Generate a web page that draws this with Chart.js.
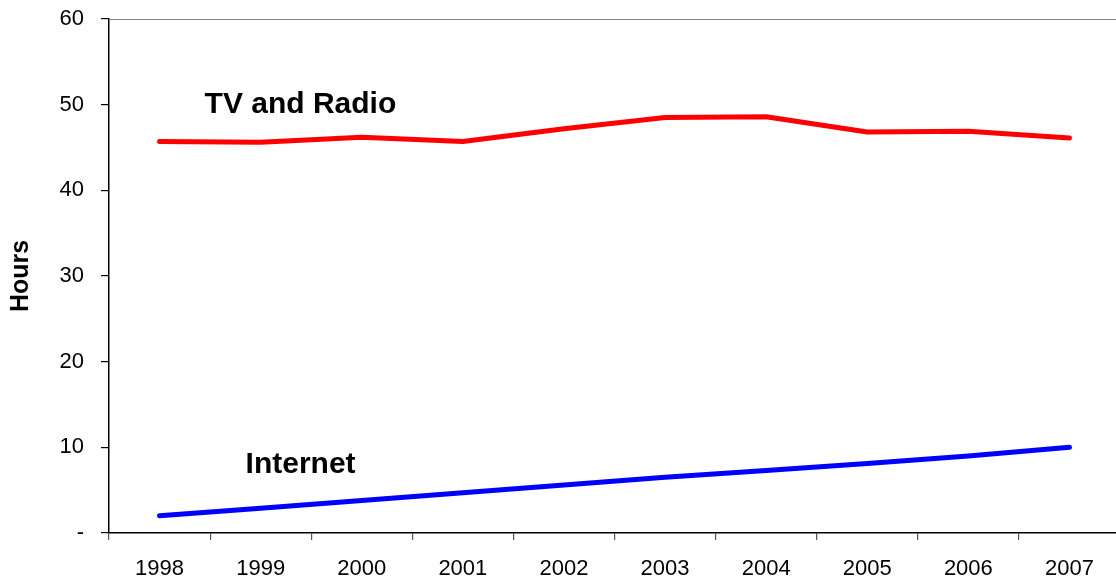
<!DOCTYPE html>
<html>
<head>
<meta charset="utf-8">
<script src="https://cdn.jsdelivr.net/npm/chart.js@4/dist/chart.umd.min.js"></script>
<style>
  html, body { margin: 0; padding: 0; background: #fff; overflow: hidden; }
  #wrap { position: relative; width: 1130px; height: 579px; }
</style>
</head>
<body>
<div id="wrap"><canvas id="chart"></canvas></div>
<script>
// ---- data ----
const years = ['1998','1999','2000','2001','2002','2003','2004','2005','2006','2007'];
const tvRadio = [45.7, 45.6, 46.2, 45.7, 47.2, 48.5, 48.6, 46.8, 46.9, 46.1];
const internet = [2.0, 2.9, 3.8, 4.7, 5.6, 6.5, 7.3, 8.1, 9.0, 10.0];
const yTicks = [0, 10, 20, 30, 40, 50, 60];

const FONT = '"Liberation Sans", Arial, sans-serif';

// in-chart labels, top border and rotated axis title
const annotate = {
  id: 'annotate',
  afterDraw(chart) {
    const { ctx, chartArea: a, scales: { x, y } } = chart;
    ctx.save();
    // top frame line
    ctx.strokeStyle = '#808080';
    ctx.lineWidth = 1.2;
    ctx.beginPath();
    ctx.moveTo(a.left, a.top + 0.5);
    ctx.lineTo(a.right, a.top + 0.5);
    ctx.stroke();

    ctx.fillStyle = '#000';
    ctx.font = 'bold 30px ' + FONT;
    ctx.textAlign = 'left';
    ctx.textBaseline = 'alphabetic';
    ctx.fillText('TV and Radio', x.getPixelForValue(0) + 45, y.getPixelForValue(49.05));
    ctx.fillText('Internet', x.getPixelForValue(0) + 86, y.getPixelForValue(7.0));

    // y axis title
    ctx.font = 'bold 25px ' + FONT;
    ctx.translate(21, (a.top + a.bottom) / 2);
    ctx.rotate(-Math.PI / 2);
    ctx.textAlign = 'center';
    ctx.textBaseline = 'middle';
    ctx.fillText('Hours', 0, 0);
    ctx.restore();
  }
};

new Chart(document.getElementById('chart'), {
  type: 'line',
  data: {
    labels: years,
    datasets: [
      { label: 'TV and Radio', data: tvRadio, borderColor: '#ff0000', borderWidth: 5,
        pointRadius: 0, tension: 0, borderCapStyle: 'round', borderJoinStyle: 'round' },
      { label: 'Internet', data: internet, borderColor: '#0000ff', borderWidth: 5,
        pointRadius: 0, tension: 0, borderCapStyle: 'round', borderJoinStyle: 'round' }
    ]
  },
  options: {
    responsive: true,
    maintainAspectRatio: false,
    animation: false,
    layout: { padding: { top: 19, right: 10, left: 0, bottom: 0 } },
    plugins: { legend: { display: false }, tooltip: { enabled: false } },
    scales: {
      x: {
        offset: true,
        grid: { offset: true, drawOnChartArea: false, drawTicks: true, tickLength: 7, color: '#555', lineWidth: 1.2 },
        border: { color: '#000', width: 1.5 },
        ticks: { color: '#000', font: { family: FONT, size: 22 }, padding: 16, maxRotation: 0 },
        afterFit(s) { s.height = 46; s.paddingLeft = 0; s.paddingRight = 0; }
      },
      y: {
        min: 0,
        max: 60,
        afterBuildTicks(s) { s.ticks = yTicks.map(v => ({ value: v })); },
        grid: { drawOnChartArea: false, drawTicks: true, tickLength: 8, color: '#000', lineWidth: 1.2 },
        border: { color: '#000', width: 1.5 },
        ticks: {
          color: '#000', font: { family: FONT, size: 22 }, padding: 17,
          callback: v => v === 0 ? '-' : v
        },
        afterFit(s) { s.width = 109; s.paddingTop = 0; s.paddingBottom = 0; }
      }
    }
  },
  plugins: [annotate]
});
</script>
</body>
</html>
